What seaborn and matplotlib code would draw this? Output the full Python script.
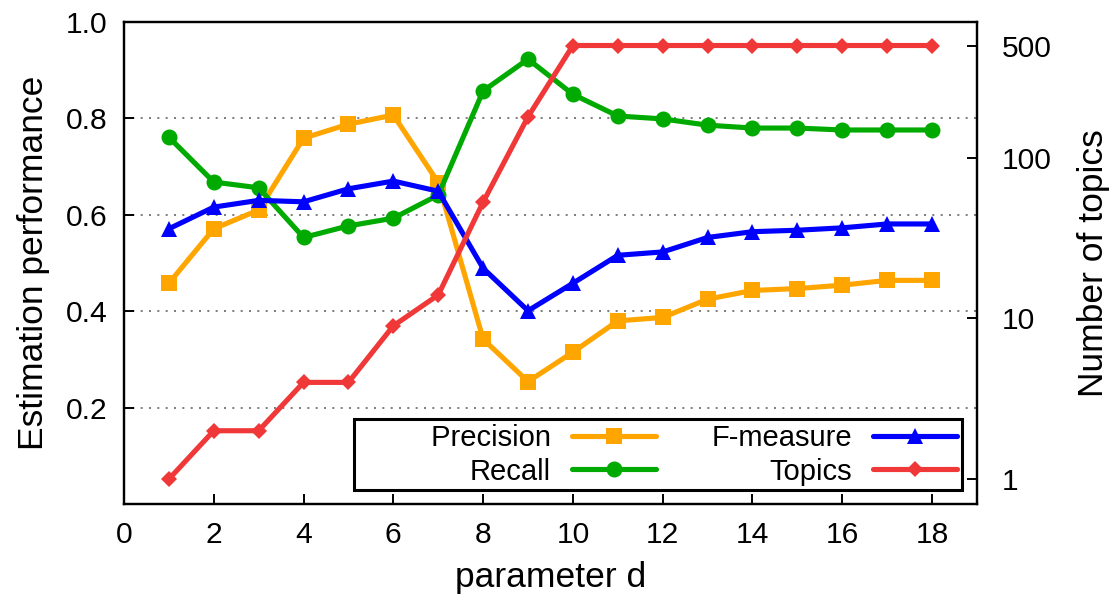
import matplotlib
matplotlib.use("Agg")
import matplotlib.pyplot as plt
from matplotlib.ticker import FixedLocator, NullLocator, FixedFormatter
import seaborn as sns

# values
d = list(range(1, 19))
precision = [0.458, 0.571, 0.610, 0.759, 0.788, 0.807, 0.667, 0.342, 0.254,
             0.315, 0.380, 0.387, 0.425, 0.443, 0.447, 0.454, 0.464, 0.464]
recall = [0.761, 0.668, 0.656, 0.553, 0.577, 0.593, 0.641, 0.857, 0.923,
          0.850, 0.805, 0.799, 0.786, 0.780, 0.780, 0.776, 0.776, 0.776]
fmeasure = [0.571, 0.616, 0.630, 0.627, 0.654, 0.670, 0.649, 0.489, 0.401,
            0.458, 0.516, 0.523, 0.553, 0.565, 0.568, 0.573, 0.581, 0.581]
topics = [1, 2, 2, 4, 4, 9, 14, 53, 180, 500, 500, 500, 500, 500, 500, 500, 500, 500]

x_ticks = [0, 2, 4, 6, 8, 10, 12, 14, 16, 18]
y_ticks = [0.2, 0.4, 0.6, 0.8, 1.0]
topic_ticks = [1, 10, 100, 500]
topic_tick_labels = ["1", "10", "100", "500"]

sns.set_style("ticks")
plt.rcParams['font.family'] = ['Liberation Sans', 'DejaVu Sans']
plt.rcParams['text.color'] = 'black'
plt.rcParams['axes.labelcolor'] = 'black'

fig = plt.figure(figsize=(11.16, 5.97), dpi=100)
ax = fig.add_axes([0.1111, 0.1558, 0.7643, 0.8073])
ax2 = ax.twinx()
ax2.set_yscale('log')

lw = 3.7
sns.lineplot(x=d, y=precision, ax=ax, color='#FFA500', marker='s', markersize=12,
             markeredgewidth=0, linewidth=lw)
sns.lineplot(x=d, y=recall, ax=ax, color='#00AA00', marker='o', markersize=11.5,
             markeredgewidth=0, linewidth=lw)
sns.lineplot(x=d, y=fmeasure, ax=ax, color='#0000FF', marker='^', markersize=11,
             markeredgewidth=0, linewidth=lw)
sns.lineplot(x=d, y=topics, ax=ax2, color='#F03838', marker='D', markersize=8,
             markeredgewidth=0, linewidth=lw)

l_prec, l_rec, l_f = ax.lines[0], ax.lines[1], ax.lines[2]
l_top = ax2.lines[0]

# axes ranges and ticks
ax.set_xlim(0, 19)
ax.set_ylim(0, 1.0)
ax.set_xticks(x_ticks)
ax.set_yticks(y_ticks)
ax.set_yticklabels([f"{v:.1f}" for v in y_ticks])
ax2.set_ylim(0.7, 700)
ax2.yaxis.set_major_locator(FixedLocator(topic_ticks))
ax2.yaxis.set_major_formatter(FixedFormatter(topic_tick_labels))
ax2.yaxis.set_minor_locator(NullLocator())

ax.yaxis.grid(True, linestyle=(0, (1.2, 3.8)), color='#666666', linewidth=1.2)
ax.xaxis.grid(False)
ax.set_axisbelow(True)

for a in (ax, ax2):
    for sp in a.spines.values():
        sp.set_color('black')
        sp.set_linewidth(1.6)

ax.tick_params(axis='x', direction='in', length=7, width=1.4, labelsize=21.6,
               pad=12, top=False, colors='black')
ax.tick_params(axis='y', direction='in', length=7, width=1.4, labelsize=21.6,
               pad=12, right=False, colors='black')
ax2.tick_params(axis='y', direction='in', length=7, width=1.4, labelsize=21.6,
                pad=18, colors='black')

ax.set_xlabel('parameter d', fontsize=25.5, labelpad=9)
ax.set_ylabel('Estimation performance', fontsize=25.5, labelpad=11)
ax2.set_ylabel('Number of topics', fontsize=25.5, labelpad=18)

# legend in gnuplot style: text on the left, sample on the right
leg = ax2.legend([l_prec, l_rec, l_f, l_top],
                 ['         Precision', 'Recall', 'F-measure', 'Topics'],
                 loc='lower right', bbox_to_anchor=(0.982, 0.029), ncol=2,
                 markerfirst=False, fontsize=21, handlelength=2.9,
                 handletextpad=0.7, columnspacing=1.9, labelspacing=0.2,
                 borderpad=0.15, fancybox=False, framealpha=1,
                 edgecolor='black', borderaxespad=0)
leg.get_frame().set_linewidth(2.2)

plt.savefig('out.png', dpi=100)
plt.close()
